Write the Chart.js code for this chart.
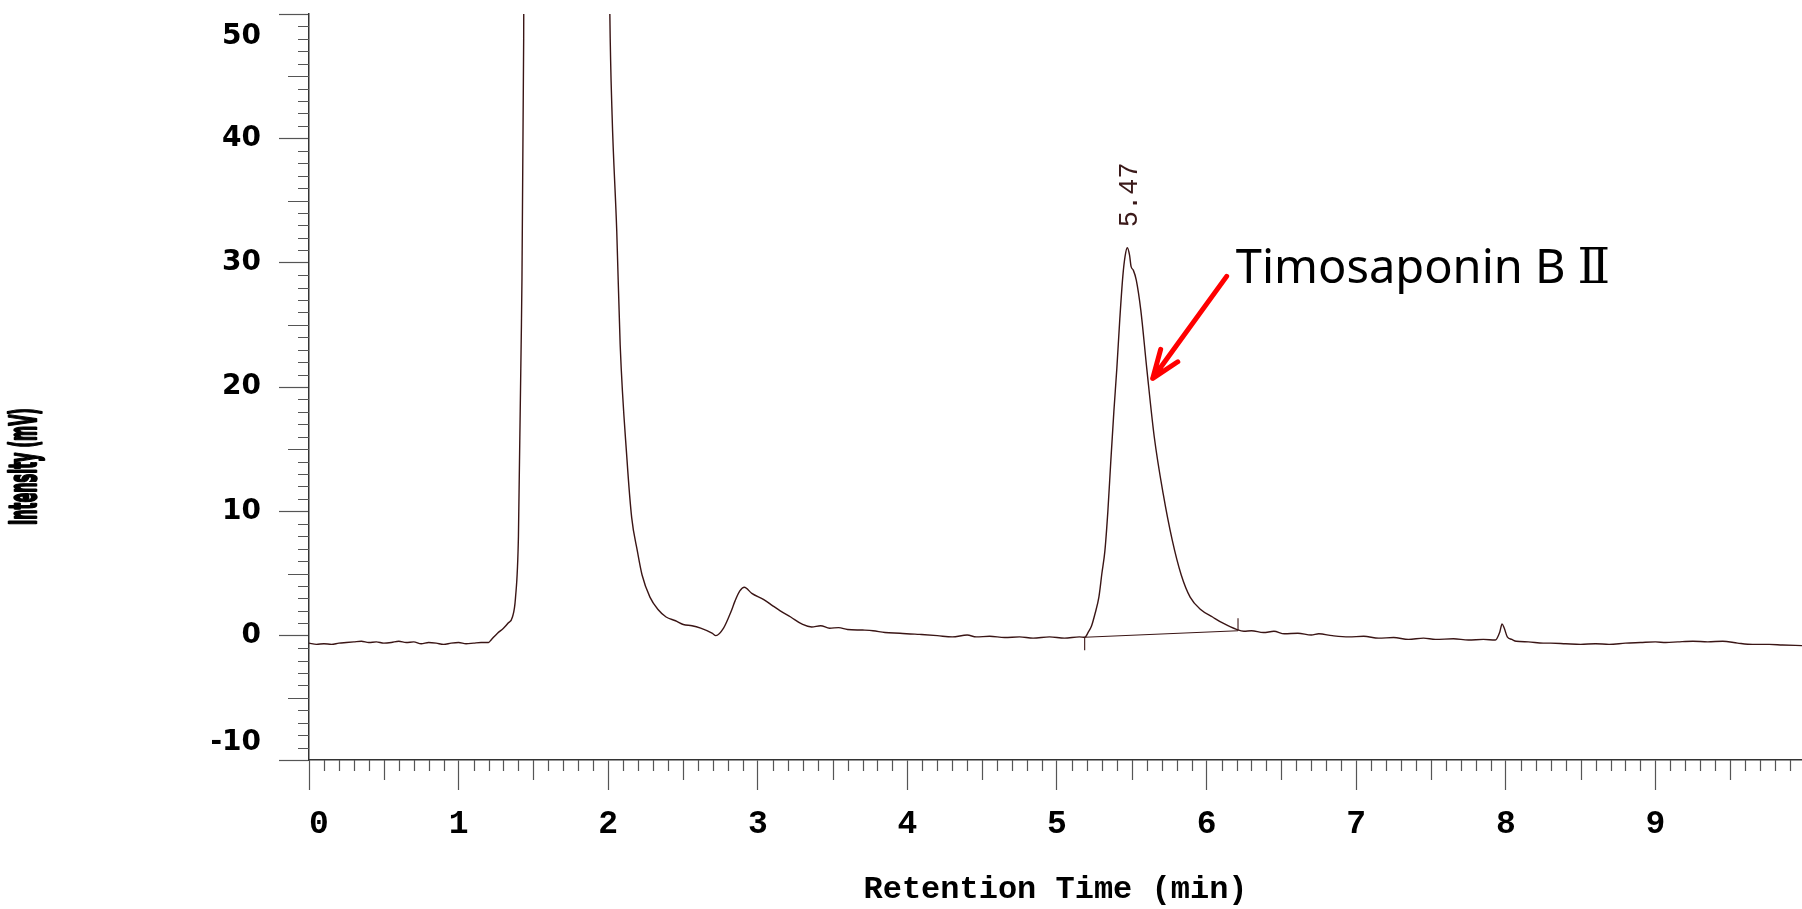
<!DOCTYPE html>
<html>
<head>
<meta charset="utf-8">
<script src="https://cdn.jsdelivr.net/npm/chart.js@4.4.1/dist/chart.umd.min.js"></script>
<style>
  html, body { margin: 0; padding: 0; background: #fff; overflow: hidden; }
  canvas { display: block; }
</style>
</head>
<body>
<canvas id="chart" width="1802" height="909"></canvas>
<script>
// retention time (min) and detector signal (mV)
const times = [
  0.00, 0.05, 0.10, 0.15, 0.20, 0.25, 0.30, 0.35, 0.40, 0.45, 0.50, 0.55, 0.60, 0.65, 0.70, 0.75,
  0.80, 0.85, 0.90, 0.95, 1.00, 1.05, 1.10, 1.15, 1.20, 1.22, 1.26, 1.30, 1.33, 1.36, 1.38, 1.40,
  1.42, 1.435, 1.45, 1.60, 1.80, 1.95, 2.00, 2.011, 2.026, 2.057, 2.08, 2.126, 2.157, 2.195, 2.226,
  2.279, 2.333, 2.387, 2.45, 2.502, 2.56, 2.618, 2.694, 2.72, 2.771, 2.82, 2.848, 2.88, 2.91, 2.96,
  3.04, 3.10, 3.15, 3.22, 3.30, 3.36, 3.42, 3.48, 3.54, 3.60, 3.70, 3.77, 3.85, 3.95, 4.08, 4.20,
  4.30, 4.40, 4.46, 4.55, 4.65, 4.75, 4.84, 4.95, 5.05, 5.15, 5.185, 5.21, 5.23, 5.255, 5.28, 5.30,
  5.32, 5.34, 5.36, 5.38, 5.40, 5.42, 5.44, 5.455, 5.47, 5.485, 5.495, 5.51, 5.53, 5.56, 5.60, 5.65,
  5.71, 5.77, 5.83, 5.89, 5.96, 6.04, 6.11, 6.20, 6.25, 6.30, 6.38, 6.45, 6.52, 6.61, 6.70, 6.75,
  6.84, 6.95, 7.05, 7.15, 7.25, 7.35, 7.45, 7.53, 7.65, 7.75, 7.85, 7.93, 7.96, 7.975, 7.99, 8.01,
  8.04, 8.07, 8.15, 8.25, 8.30, 8.40, 8.50, 8.60, 8.69, 8.80, 8.90, 9.00, 9.07, 9.15, 9.25, 9.35,
  9.45, 9.55, 9.65, 9.76, 9.85, 9.98
];
const signal = [
  -0.60, -0.70, -0.65, -0.70, -0.60, -0.55, -0.50, -0.45, -0.55, -0.50, -0.60, -0.55, -0.45, -0.55, -0.50, -0.65,
  -0.55, -0.60, -0.70, -0.60, -0.55, -0.65, -0.60, -0.55, -0.55, -0.30, 0.20, 0.60, 1.00, 1.50, 3.00, 8.00,
  25.0, 48.0, 120, 400, 350, 150, 65.0, 50.0, 41.9, 32.6, 23.4, 14.1, 9.5, 6.8, 4.9,
  3.1, 2.1, 1.5, 1.2, 0.9, 0.8, 0.6, 0.2, 0.0, 0.6, 1.9, 2.8, 3.6, 3.9, 3.4,
  2.9, 2.4, 2.0, 1.5, 0.9, 0.7, 0.8, 0.6, 0.65, 0.5, 0.45, 0.4, 0.25, 0.2, 0.1, 0.0,
  -0.1, 0.05, -0.1, -0.05, -0.15, -0.1, -0.2, -0.1, -0.2, -0.1, -0.13, 0.3, 0.75, 1.8, 3.1, 5.0,
  6.8, 10.0, 14.1, 18.0, 21.5, 25.5, 28.9, 30.5, 31.2, 30.6, 29.7, 29.4, 28.6, 26.2, 21.5, 16.0,
  11.4, 7.7, 4.9, 3.1, 2.1, 1.5, 1.0, 0.5, 0.35, 0.4, 0.25, 0.35, 0.15, 0.2, 0.05, 0.15,
  0.0, -0.1, -0.05, -0.2, -0.15, -0.3, -0.2, -0.3, -0.25, -0.35, -0.3, -0.35, 0.3, 0.95, 0.6, -0.1,
  -0.3, -0.45, -0.5, -0.6, -0.6, -0.65, -0.7, -0.65, -0.7, -0.6, -0.55, -0.5, -0.55, -0.5, -0.45, -0.5,
  -0.45, -0.6, -0.7, -0.7, -0.75, -0.8
];

// integration baseline of the 5.47 peak
const baseTimes = [5.185, 6.21];
const baseValues = [-0.13, 0.40];

// annotation
const peakTime = 5.47;
const peakValue = 31.2;
const peakLabel = '5.47';
const compoundName = 'Timosaponin B Ⅱ';
const arrowFrom = [6.134, 28.9];
const arrowTo = [5.64, 20.7];
const namePos = [6.195, 28.4];

const xTitle = 'Retention Time (min)';
const yTitle = 'Intensity (mV)';
const yTitleAt = 13.6;

const traceColor = '#3a1515';

var trace = times.map((t, i) => ({x: t, y: signal[i]}));
var baseline = baseTimes.map((t, i) => ({x: t, y: baseValues[i]}));
// small marks at both ends of the baseline
var startMark = [{x: baseTimes[0], y: baseValues[0]}, {x: baseTimes[0], y: baseValues[0] - 1.05}];
var endMark = [{x: baseTimes[1], y: baseValues[1]}, {x: baseTimes[1], y: baseValues[1] + 1.0}];

const extras = {
  id: 'extras',
  afterDraw(chart) {
    const ctx = chart.ctx;
    const xs = chart.scales.x, ys = chart.scales.y;
    const area = chart.chartArea;
    ctx.save();

    // minor ticks
    ctx.strokeStyle = '#555';
    ctx.lineWidth = 1.2;
    ctx.beginPath();
    for (let i = 1; i < 100; i++) {
      if (i % 10 === 0) continue;
      const px = Math.round(xs.getPixelForValue(i / 10)) + 0.5;
      const len = i % 5 === 0 ? 20 : 11;
      ctx.moveTo(px, area.bottom);
      ctx.lineTo(px, area.bottom + len);
    }
    for (let v = -9; v < 50; v++) {
      if (v % 10 === 0) continue;
      const py = Math.round(ys.getPixelForValue(v)) + 0.5;
      const len = Math.abs(v) % 5 === 0 ? 21 : 11;
      ctx.moveTo(area.left - len, py);
      ctx.lineTo(area.left, py);
    }
    ctx.stroke();

    // retention time above the peak
    ctx.save();
    ctx.translate(xs.getPixelForValue(peakTime) + 3, ys.getPixelForValue(peakValue) - 53);
    ctx.rotate(-Math.PI / 2);
    ctx.fillStyle = '#3b1a1a';
    ctx.font = '27px "Liberation Mono", monospace';
    ctx.textAlign = 'center';
    ctx.textBaseline = 'middle';
    ctx.fillText(peakLabel, 0, 0);
    ctx.restore();

    // red arrow
    const x1 = xs.getPixelForValue(arrowFrom[0]), y1 = ys.getPixelForValue(arrowFrom[1]);
    const x2 = xs.getPixelForValue(arrowTo[0]), y2 = ys.getPixelForValue(arrowTo[1]);
    const ang = Math.atan2(y1 - y2, x1 - x2);
    ctx.strokeStyle = '#ff0000';
    ctx.lineWidth = 5;
    ctx.lineCap = 'round';
    ctx.lineJoin = 'round';
    ctx.beginPath();
    ctx.moveTo(x1, y1);
    ctx.lineTo(x2, y2);
    ctx.moveTo(x2 + 30 * Math.cos(ang - 0.36), y2 + 30 * Math.sin(ang - 0.36));
    ctx.lineTo(x2, y2);
    ctx.lineTo(x2 + 30 * Math.cos(ang + 0.36), y2 + 30 * Math.sin(ang + 0.36));
    ctx.stroke();

    // compound name; the roman numeral has serifs in the original
    ctx.fillStyle = '#000';
    ctx.textAlign = 'left';
    ctx.textBaseline = 'alphabetic';
    const cut = compoundName.lastIndexOf(' ');
    const nx = xs.getPixelForValue(namePos[0]), ny = ys.getPixelForValue(namePos[1]);
    ctx.font = '47px "Noto Sans", sans-serif';
    ctx.fillText(compoundName.slice(0, cut), nx, ny);
    const nw = ctx.measureText(compoundName.slice(0, cut)).width;
    ctx.font = '48px "DejaVu Serif", serif';
    ctx.fillText(compoundName.slice(cut + 1), nx + nw + 12, ny);

    // squeezed y axis title, as in the original print
    ctx.save();
    ctx.font = 'bold 38px "DejaVu Sans", sans-serif';
    const w = ctx.measureText(yTitle).width;
    ctx.translate(ys.left + 26, ys.getPixelForValue(yTitleAt));
    ctx.rotate(-Math.PI / 2);
    ctx.scale(117 / w, 1);
    ctx.textAlign = 'center';
    ctx.textBaseline = 'middle';
    ctx.strokeStyle = '#000';
    ctx.lineWidth = 2.5;
    ctx.fillText(yTitle, 0, 0);
    ctx.strokeText(yTitle, 0, 0);
    ctx.restore();

    ctx.restore();
  }
};

new Chart(document.getElementById('chart'), {
  type: 'line',
  data: {
    datasets: [
      {data: trace, borderColor: traceColor, borderWidth: 1.4, pointRadius: 0, cubicInterpolationMode: 'monotone'},
      {data: baseline, borderColor: traceColor, borderWidth: 1.1, pointRadius: 0},
      {data: startMark, borderColor: traceColor, borderWidth: 1.1, pointRadius: 0},
      {data: endMark, borderColor: traceColor, borderWidth: 1.1, pointRadius: 0}
    ]
  },
  options: {
    responsive: false,
    animation: false,
    devicePixelRatio: 1,
    layout: {padding: {top: 14, right: 0, bottom: 0, left: 0}},
    plugins: {legend: {display: false}, tooltip: {enabled: false}},
    scales: {
      x: {
        type: 'linear',
        min: 0,
        max: 9.98,
        afterFit: s => { s.height = 149; s.paddingLeft = 0; s.paddingRight = 0; },
        grid: {drawOnChartArea: false, drawTicks: true, tickLength: 30, tickColor: '#555', tickWidth: 1.2},
        border: {display: true, color: '#333', width: 1.5},
        ticks: {
          stepSize: 1,
          includeBounds: false,
          autoSkip: false,
          maxRotation: 0,
          padding: 15,
          color: '#000',
          font: {family: '"Liberation Mono", monospace', size: 33, weight: 'bold'},
          callback: v => v === 0 ? ' 0' : String(v)
        },
        title: {
          display: true,
          text: xTitle,
          color: '#000',
          font: {family: '"Liberation Mono", monospace', size: 32, weight: 'bold'},
          padding: {top: 0, bottom: 0}
        }
      },
      y: {
        min: -10,
        max: 50,
        afterFit: s => { s.width = 309; s.paddingTop = 0; s.paddingBottom = 0; },
        grid: {drawOnChartArea: false, drawTicks: true, tickLength: 30, tickColor: '#555', tickWidth: 1.2},
        border: {display: true, color: '#333', width: 1.5},
        ticks: {
          stepSize: 10,
          padding: 18,
          color: '#000',
          // end labels sit inside the axis range, as in the original
          font: c => ({
            family: '"DejaVu Sans", sans-serif', size: 28, weight: 'bold',
            lineHeight: c.tick && c.tick.value === 50 ? 1.65 : 1.25
          }),
          callback: v => v === 50 ? ['', '50'] : (v === -10 ? ['-10', ''] : String(v))
        }
      }
    }
  },
  plugins: [extras]
});
</script>
</body>
</html>
